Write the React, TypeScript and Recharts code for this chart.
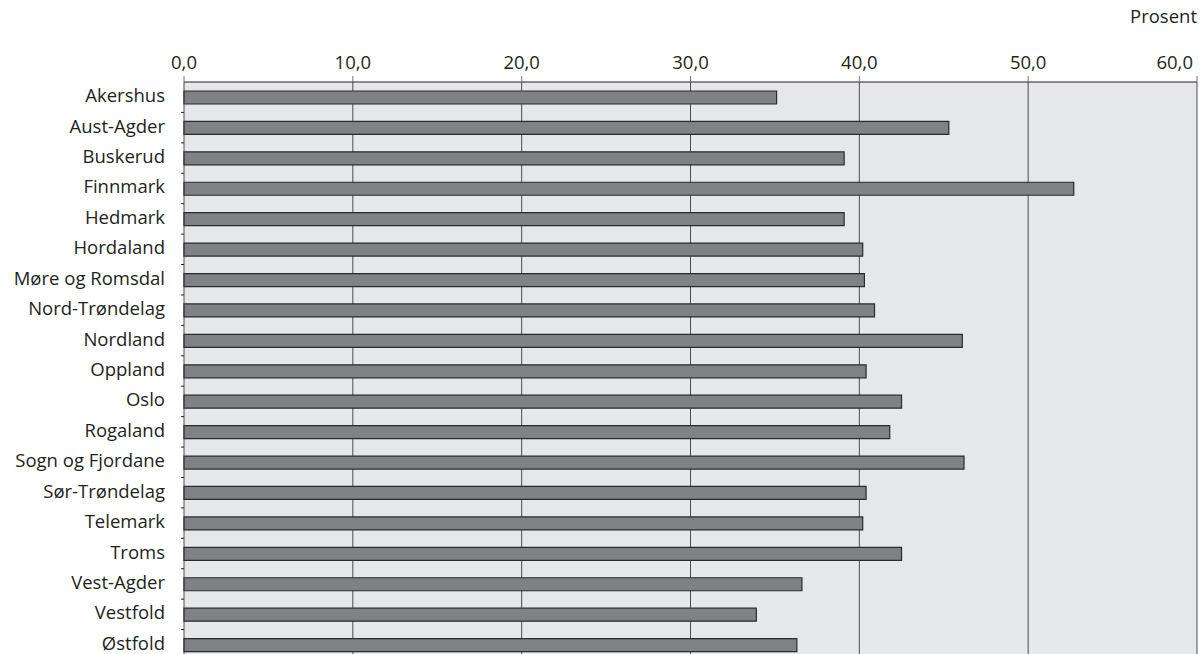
import React from "react";
import { BarChart, Bar, XAxis, YAxis, CartesianGrid } from "recharts";

const counties = [
  "Akershus",
  "Aust-Agder",
  "Buskerud",
  "Finnmark",
  "Hedmark",
  "Hordaland",
  "Møre og Romsdal",
  "Nord-Trøndelag",
  "Nordland",
  "Oppland",
  "Oslo",
  "Rogaland",
  "Sogn og Fjordane",
  "Sør-Trøndelag",
  "Telemark",
  "Troms",
  "Vest-Agder",
  "Vestfold",
  "Østfold",
];

const percent = [
  35.1, 45.3, 39.1, 52.7, 39.1, 40.2, 40.3, 40.9, 46.1, 40.4, 42.5, 41.8, 46.2,
  40.4, 40.2, 42.5, 36.6, 33.9, 36.3,
];

const xTicks = [0, 10, 20, 30, 40, 50, 60];

const data = counties.map((name, i) => ({ name, value: percent[i] }));

const fontFamily = "'Open Sans', sans-serif";
const fontSize = 18.5;
const BAND = 578 / counties.length;
const PLOT_LEFT = 184;

const CountyTick = (props: any) => {
  const { y, payload } = props;
  return (
    <g>
      <text
        x={PLOT_LEFT - 19}
        y={y}
        dy={5}
        textAnchor="end"
        fontSize={fontSize}
        fill="#231f20"
        fontFamily={fontFamily}
      >
        {payload.value}
      </text>
      <line
        x1={PLOT_LEFT - 3}
        x2={PLOT_LEFT}
        y1={y + BAND / 2}
        y2={y + BAND / 2}
        stroke="#231f20"
      />
    </g>
  );
};

const ValueTick = (props: any) => {
  const { x, y, payload } = props;
  const last = payload.value === xTicks[xTicks.length - 1];
  return (
    <text
      x={last ? x - 4 : x}
      y={y}
      dy={-5}
      textAnchor={last ? "end" : "middle"}
      fontSize={fontSize}
      fill="#231f20"
      fontFamily={fontFamily}
    >
      {payload.value.toFixed(1).replace(".", ",")}
    </text>
  );
};

export default function App() {
  return (
    <div style={pageStyle}>
      <div style={unitStyle}>Prosent</div>
      <BarChart
        width={1201}
        height={662}
        data={data}
        layout="vertical"
        margin={{ top: 52, right: 4, bottom: 2, left: 0 }}
        barCategoryGap={0}
      >
        <CartesianGrid
          horizontal={false}
          stroke="#4d4d4f"
          fill="#e6e7e8"
          fillOpacity={1}
        />
        <XAxis
          type="number"
          orientation="top"
          domain={[0, 60]}
          ticks={xTicks}
          height={30}
          axisLine={{ stroke: "#231f20" }}
          tickLine={{ stroke: "#777" }}
          tickSize={6}
          tick={<ValueTick />}
          interval={0}
        />
        <YAxis
          type="category"
          dataKey="name"
          width={PLOT_LEFT}
          axisLine={false}
          tickLine={false}
          tick={<CountyTick />}
          interval={0}
        />
        <Bar
          dataKey="value"
          fill="#808184"
          stroke="#2b2b2b"
          strokeWidth={1.2}
          barSize={13}
          isAnimationActive={false}
        />
      </BarChart>
    </div>
  );
}

const pageStyle: React.CSSProperties = {
  position: "absolute",
  left: 0,
  top: 0,
  width: 1201,
  height: 654,
  overflow: "hidden",
  background: "#ffffff",
};

const unitStyle: React.CSSProperties = {
  position: "absolute",
  right: 4,
  top: 3,
  fontFamily,
  fontSize,
  lineHeight: "26px",
  color: "#231f20",
};
